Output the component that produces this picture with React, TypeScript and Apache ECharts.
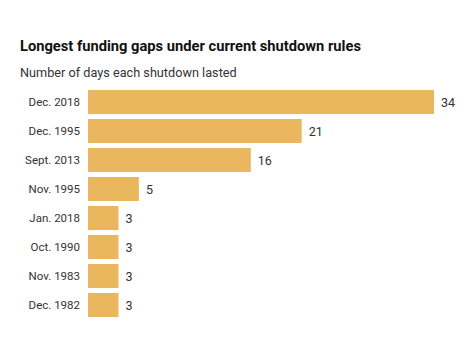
import React, { useEffect, useRef } from "react";
import * as echarts from "echarts";

const categories = ["Dec. 2018", "Dec. 1995", "Sept. 2013", "Nov. 1995", "Jan. 2018", "Oct. 1990", "Nov. 1983", "Dec. 1982"];
const days = [34, 21, 16, 5, 3, 3, 3, 3];
const titleText = "Longest funding gaps under current shutdown rules";
const subtitleText = "Number of days each shutdown lasted";

export default function App() {
  const ref = useRef<HTMLDivElement>(null);
  useEffect(() => {
    const chart = echarts.init(ref.current!, null, { renderer: "svg" });
    chart.setOption({
      animation: false,
      backgroundColor: "#ffffff",
      textStyle: { fontFamily: "Roboto" },
      title: [
        {
          text: titleText,
          left: 20,
          top: 38,
          padding: 0,
          textStyle: { fontFamily: "Roboto", fontWeight: "bold", fontSize: 14.7, color: "#111111" },
        },
        {
          text: subtitleText,
          left: 20,
          top: 66,
          padding: 0,
          textStyle: { fontFamily: "Roboto", fontWeight: "normal", fontSize: 12.7, color: "#333333" },
        },
      ],
      grid: { left: 88, right: 40, top: 87.5, height: 232, containLabel: false },
      xAxis: {
        type: "value",
        min: 0,
        max: 34,
        show: false,
      },
      yAxis: {
        type: "category",
        data: categories,
        inverse: true,
        axisLine: { show: false },
        axisTick: { show: false },
        axisLabel: { color: "#333333", fontSize: 11.5, margin: 8, fontFamily: "Roboto" },
      },
      series: [
        {
          type: "bar",
          data: days,
          barCategoryGap: "17%",
          itemStyle: { color: "#EAB75F" },
          label: {
            show: true,
            position: "right",
            distance: 7,
            color: "#333333",
            fontSize: 12.5,
            fontFamily: "Roboto",
          },
        },
      ],
    });
    return () => chart.dispose();
  }, []);
  return <div ref={ref} style={{ position: "fixed", left: 0, top: 0, width: 474, height: 355 }} />;
}
